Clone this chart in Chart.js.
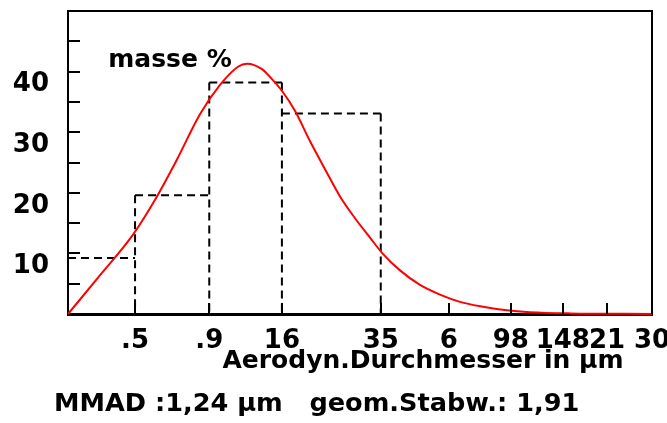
<!DOCTYPE html>
<html>
<head>
<meta charset="utf-8">
<script src="https://cdn.jsdelivr.net/npm/chart.js"></script>
<style>
  body { margin: 0; background: #fff; }
  #wrap { width: 667px; height: 423px; }
</style>
</head>
<body>
<div id="wrap"><canvas id="chart" width="667" height="423"></canvas></div>
<script>
// rote Verteilungskurve: Durchmesser (µm) und masse %
var kurveX = [0.294, 0.376, 0.492, 0.590, 0.692, 0.837, 0.980, 1.130, 1.214, 1.367, 1.457, 1.602, 1.776,
              2.0, 2.251, 2.535, 2.855, 3.215, 3.535, 4.077, 4.776, 5.596, 6.557, 7.868, 9.51, 11.41, 15.67, 30];
var kurveY = [0, 6.2, 13.1, 19.1, 25.2, 33.0, 37.8, 40.8, 41.3, 40.4, 39.1, 36.8, 33.5,
              28.5, 23.9, 19.4, 15.8, 12.6, 10.1, 7.2, 4.8, 3.2, 2.0, 1.2, 0.6, 0.3, 0.1, 0];

// gestrichelte Klassen (Säulen)
var klassenGrenzen = [0.294, 0.5, 0.9, 1.6, 3.5];
var klassenWerte = [9.25, 19.6, 38.2, 33.1];

// Achsen
var xTickWerte = [0.5, 0.9, 1.6, 3.5, 6, 9.8, 14.8, 21, 30];
var xTickTexte = ['.5', '.9', '16', '35', '6', '98', '148', '21', '30'];
var yTickWerte = [10, 20, 30, 40];
var xMin = 0.294, xMax = 30, yMax = 50;

var yTitel = 'masse %';
var xTitel = 'Aerodyn.Durchmesser in µm';
var fussText = 'MMAD :1,24 µm   geom.Stabw.: 1,91';

var schrift = '"DejaVu Sans", sans-serif';

var kurvePunkte = kurveX.map(function (x, i) { return { x: x, y: kurveY[i] }; });

// Säulen: Deckel je Klasse, senkrechte Linien je Grenze nur einmal
var saeulenPunkte = [];
klassenWerte.forEach(function (h, i) {
  saeulenPunkte.push({ x: klassenGrenzen[i], y: h }, { x: klassenGrenzen[i + 1], y: h }, { x: klassenGrenzen[i + 1], y: null });
});
for (var i = 1; i < klassenGrenzen.length; i++) {
  var hoch = Math.max(klassenWerte[i - 1], klassenWerte[i] || 0);
  saeulenPunkte.push({ x: klassenGrenzen[i], y: hoch }, { x: klassenGrenzen[i], y: 0 }, { x: klassenGrenzen[i], y: null });
}

// Rahmen oben/rechts, Teilstriche nach innen, Texte
var rahmen = {
  id: 'rahmen',
  afterDraw: function (chart) {
    var ctx = chart.ctx, a = chart.chartArea;
    var xs = chart.scales.x, ys = chart.scales.y;
    ctx.save();
    ctx.strokeStyle = '#000';
    ctx.lineWidth = 2;
    ctx.beginPath();
    ctx.moveTo(a.left, a.top);
    ctx.lineTo(a.right, a.top);
    ctx.lineTo(a.right, a.bottom);
    ctx.stroke();

    ys.ticks.forEach(function (t) {
      if (t.value <= 0 || t.value >= yMax) return;
      var py = Math.round(ys.getPixelForValue(t.value));
      ctx.beginPath();
      ctx.moveTo(a.left, py);
      ctx.lineTo(a.left + 12, py);
      ctx.stroke();
    });
    xTickWerte.forEach(function (v) {
      if (v >= xMax) return;
      var px = Math.round(xs.getPixelForValue(v));
      ctx.beginPath();
      ctx.moveTo(px, a.bottom);
      ctx.lineTo(px, a.bottom - 11);
      ctx.stroke();
    });

    ctx.fillStyle = '#000';
    ctx.font = 'bold 25px ' + schrift;
    ctx.textBaseline = 'middle';
    ctx.textAlign = 'center';
    ctx.fillText(yTitel, 170, 60);
    ctx.fillText(xTitel, 423, 361);
    ctx.textAlign = 'left';
    ctx.font = 'bold 25.6px ' + schrift;
    ctx.fillText(fussText, 54, 404);
    ctx.restore();
  }
};

var tickFont = { family: schrift, weight: 'bold', size: 26 };

new Chart(document.getElementById('chart'), {
  type: 'line',
  data: {
    datasets: [
      { data: kurvePunkte, borderColor: '#ff0000', borderWidth: 2, pointRadius: 0,
        cubicInterpolationMode: 'monotone', clip: false },
      { data: saeulenPunkte, borderColor: '#000', borderWidth: 2, borderDash: [8, 5],
        pointRadius: 0, tension: 0, spanGaps: false }
    ]
  },
  options: {
    responsive: false,
    animation: false,
    layout: { padding: { top: 11, right: 15, left: 0, bottom: 0 } },
    plugins: { legend: { display: false }, tooltip: { enabled: false } },
    scales: {
      x: {
        type: 'logarithmic', min: xMin, max: xMax,
        grid: { display: false, drawTicks: false },
        border: { color: '#000', width: 3 },
        afterBuildTicks: function (s) { s.ticks = xTickWerte.map(function (v) { return { value: v }; }); },
        afterFit: function (s) { s.height = 109; s.paddingLeft = 0; s.paddingRight = 0; },
        ticks: {
          autoSkip: false, maxRotation: 0, minRotation: 0, padding: 12, color: '#000', font: tickFont,
          callback: function (v, i) { return xTickTexte[i]; }
        }
      },
      y: {
        min: 0, max: yMax,
        grid: { display: false, drawTicks: false },
        border: { color: '#000', width: 2 },
        afterFit: function (s) { s.width = 68; s.paddingTop = 0; s.paddingBottom = 0; },
        ticks: {
          autoSkip: false, stepSize: 5, padding: 19, labelOffset: 13, color: '#000', font: tickFont,
          callback: function (v) { return yTickWerte.indexOf(v) >= 0 ? String(v) : ''; }
        }
      }
    }
  },
  plugins: [rahmen]
});
</script>
</body>
</html>
